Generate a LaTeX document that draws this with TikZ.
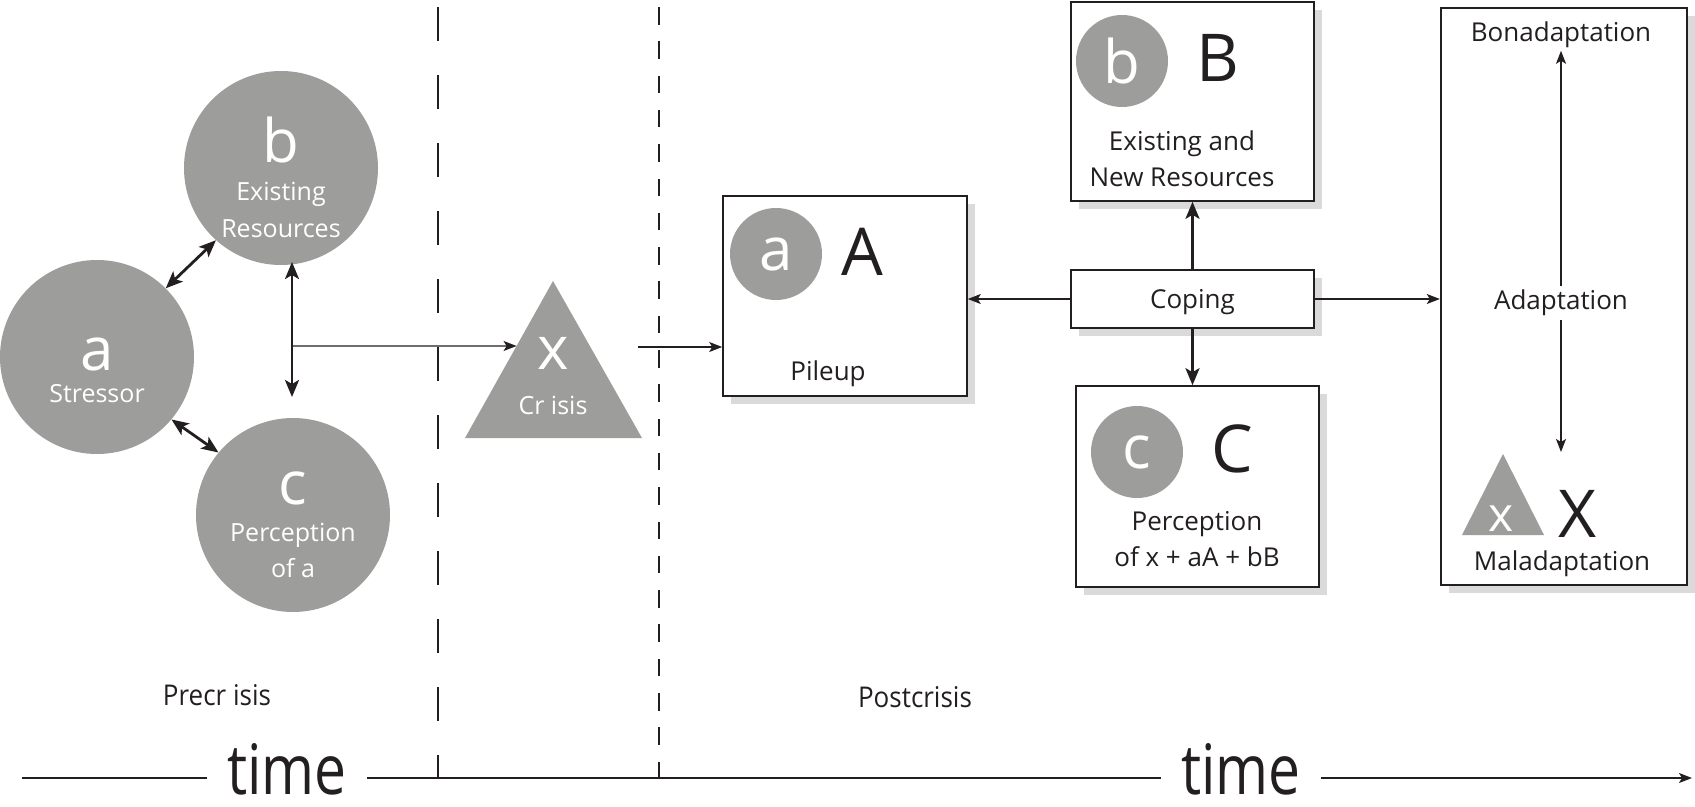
\documentclass[tikz,border=0pt]{standalone}
\usepackage{fontspec}
\setmainfont{Open Sans}
\usetikzlibrary{arrows.meta,shadows,positioning,calc}
\definecolor{ink}{RGB}{35,31,32}
\definecolor{disc}{RGB}{157,157,156}
\definecolor{shade}{RGB}{218,218,218}

\begin{document}
\begin{tikzpicture}[x=1pt, y=-1pt,
    every node/.style={text=ink},
    stage/.style={circle, fill=disc, minimum size=194pt, inner sep=0pt},
    chip/.style={circle, fill=disc, minimum size=92pt, inner sep=0pt, text=white},
    panel/.style={draw=ink, line width=1.6pt, fill=white,
        drop shadow={shadow xshift=8pt, shadow yshift=-8pt, fill=shade, opacity=1}},
    big/.style={font=\fontsize{60}{60}\selectfont},
    capl/.style={font=\fontsize{66}{66}\selectfont},
    txt/.style={font=\fontsize{26}{30}\selectfont},
    wtxt/.style={font=\fontsize{25}{30}\selectfont, text=white},
    flow/.style={draw=ink, line width=1.4pt, -{Stealth[length=13pt, width=10pt, inset=3pt]}},
    push/.style={draw=ink, line width=2.8pt, -{Stealth[length=17pt, width=14pt, inset=4pt]}},
    mutual/.style={push, {Stealth[length=17pt, width=14pt, inset=4pt]}-{Stealth[length=17pt, width=14pt, inset=4pt]}}]
    \useasboundingbox (0,0) rectangle (1695,806);

    % crisis boundaries
    \draw[ink, line width=1.8pt, dash pattern=on 34pt off 34pt] (438,7) -- (438,778);
    \draw[ink, line width=1.3pt, dash pattern=on 17.5pt off 16.8pt] (659,7) -- (659,778);

    % precrisis
    \node[stage] (b) at (281,168) {};
    \node[stage] (a) at (97,357) {};
    \node[stage] (c) at (293,515) {};
    \node[big, text=white, anchor=base] at (281,162) {b};
    \node[wtxt, anchor=base] at (281,200) {Existing};
    \node[wtxt, anchor=base] at (281,237) {Resources};
    \node[big, text=white, anchor=base] at (97,370) {a};
    \node[wtxt, anchor=base] at (97,402) {Stressor};
    \node[big, text=white, anchor=base] at (293,504) {c};
    \node[wtxt, anchor=base] at (293,541) {Perception};
    \node[wtxt, anchor=base] at (293,577) {of a};

    \draw[mutual] (a.45) -- (b.228);
    \draw[mutual] (a.-40) -- (c.140);
    \coordinate (bcup) at (292,262);
    \coordinate (bcdown) at (292,397);
    \coordinate (bcmid) at (292,346);
    \draw[mutual] (bcup) -- (bcdown);

    % crisis
    \fill[disc] (553,281) coordinate (xtop) -- (642,438) coordinate (xright)
        -- (465,438) coordinate (xleft) -- cycle;
    \node[big, text=white, anchor=base] at (553,369) {x};
    \node[wtxt, anchor=base] at (553,414) {Cr isis};
    \draw[flow] (bcmid) -- ($(xtop)!0.414!(xleft)$);

    % postcrisis
    \coordinate (xout) at (638,347);
    \node[panel, minimum width=244pt, minimum height=200pt] (A) at (845,296) {};
    \draw[flow] (xout) -- (xout -| A.west);
    \node[chip, big] at (776,254) {a};
    \node[capl, anchor=base] at (862,275) {A};
    \node[txt, anchor=base] at (828,380) {Pileup};

    \node[panel, minimum width=243pt, minimum height=199pt] (B) at (1192.5,101.5) {};
    \node[chip, big] at (1122,61) {b};
    \node[capl, anchor=base] at (1218,81) {B};
    \node[txt, anchor=base] at (1182,150) {Existing and};
    \node[txt, anchor=base] at (1182,186) {New Resources};

    \node[panel, txt, text depth=0pt, minimum width=243pt, minimum height=58pt] (cope) at (1192.5,299) {Coping};

    \node[panel, minimum width=243pt, minimum height=201pt] (C) at (1197.5,486.5) {};
    \node[chip, big] at (1137,452) {c};
    \node[capl, anchor=base] at (1232,472) {C};
    \node[txt, anchor=base] at (1197,530) {Perception};
    \node[txt, anchor=base] at (1197,566) {of x + aA + bB};

    \draw[push] (cope.north) -- (cope.north |- B.south);
    \draw[push] (cope.south) -- (cope.south |- C.north);
    \draw[flow] (cope.west) -- (cope.west -| A.east);

    % outcome
    \node[panel, line width=2.4pt, minimum width=246pt, minimum height=577pt] (out) at (1564,296.5) {};
    \draw[flow] (cope.east) -- (cope.east -| out.west);
    \node[txt, anchor=base] (bona) at (1561,41) {Bonadaptation};
    \node[txt] (adapt) at (1561,303) {Adaptation};
    \node[txt, anchor=base] (mal) at (1562,570) {Maladaptation};
    \coordinate (maltop) at (1561,452);
    \draw[flow] (adapt.north) -- (bona.south);
    \draw[flow] (adapt.south) -- (maltop);
    \fill[disc] (1503,454) -- (1544,535) -- (1462,535) -- cycle;
    \node[font=\fontsize{48}{48}\selectfont, text=white, anchor=base] at (1501,531) {x};
    \node[capl, anchor=base] at (1578,537) {X};

    % phases and time
    \node[txt, anchor=base] at (217,705) {\scalebox{1}[1.1]{Precr isis}};
    \node[txt, anchor=base] at (915,707) {\scalebox{1}[1.1]{Postcrisis}};
    \coordinate (tstart) at (22,778);
    \coordinate (tend) at (1692,778);
    \node[font=\fontsize{57}{57}\selectfont, inner xsep=20pt, inner ysep=0pt, anchor=base] (t1) at (287,794) {\scalebox{1}[1.22]{time}};
    \node[font=\fontsize{57}{57}\selectfont, inner xsep=20pt, inner ysep=0pt, anchor=base] (t2) at (1241,794) {\scalebox{1}[1.22]{time}};
    \draw[ink, line width=1.4pt] (tstart) -- (tstart -| t1.west);
    \draw[ink, line width=1.4pt] (t1.east |- tstart) -- (t2.west |- tstart);
    \draw[flow] (t2.east |- tstart) -- (tend);
\end{tikzpicture}
\end{document}
